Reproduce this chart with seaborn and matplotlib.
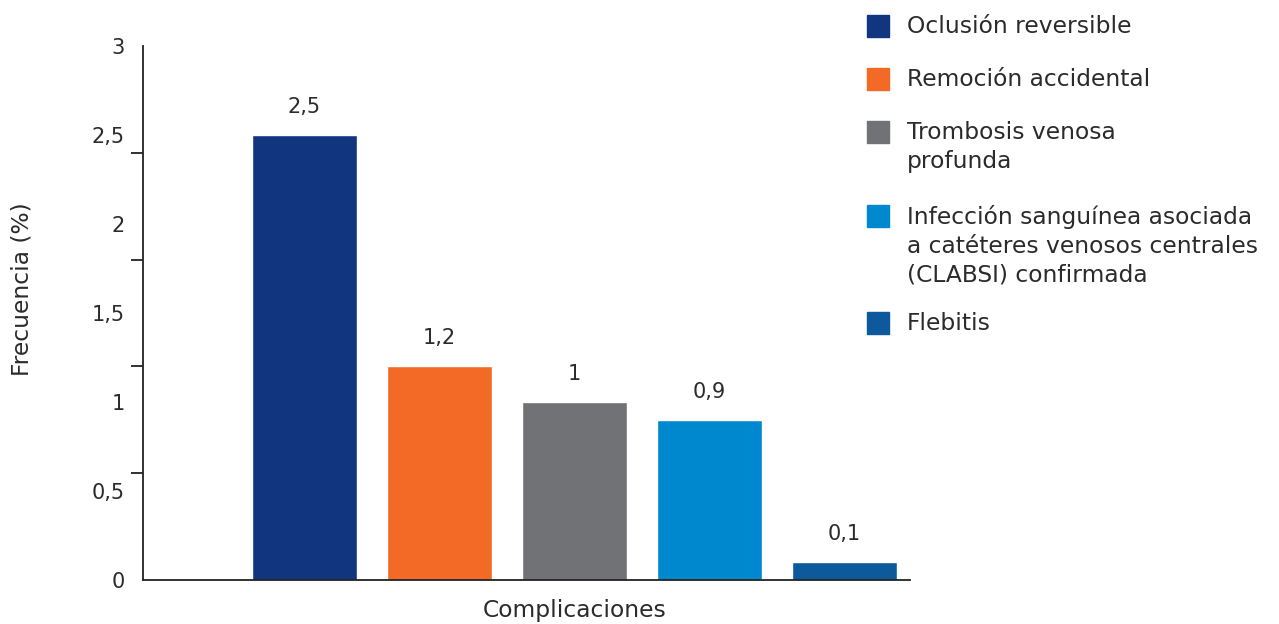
import numpy as np
import seaborn as sns
import pandas as pd
import matplotlib.pyplot as plt
from matplotlib.patches import Rectangle

categorias = ["Oclusión reversible", "Remoción accidental",
              "Trombosis venosa\nprofunda",
              "Infección sanguínea asociada\na catéteres venosos centrales\n(CLABSI) confirmada",
              "Flebitis"]
frecuencia = [2.5, 1.2, 1.0, 0.9, 0.1]
etiquetas = ["2,5", "1,2", "1", "0,9", "0,1"]
colores = ["#12357f", "#f26a26", "#717276", "#0088cf", "#0c5a9c"]
yticks = [0, 0.5, 1, 1.5, 2, 2.5, 3]
ytick_labels = ["0", "0,5", "1", "1,5", "2", "2,5", "3"]

sns.set_style("white")
plt.rcParams["font.family"] = ["DejaVu Sans"]
txt = "#2b2b2b"
fs_txt = 16.8
fs_num = 15

W, H = 1279, 624
fig = plt.figure(figsize=(W / 100, H / 100), dpi=100)
ax = fig.add_axes([143 / W, 1 - 580 / H, (910 - 143) / W, (580 - 46) / H])

df = pd.DataFrame({"cat": categorias, "val": frecuencia})
sns.barplot(data=df, x="cat", y="val", hue="cat", palette=colores,
            width=0.78, legend=False, ax=ax, saturation=1)

for cont, lab in zip(ax.containers, etiquetas):
    ax.bar_label(cont, labels=[lab], padding=13, fontsize=fs_num, color=txt)

ax.set_xlim(-1.196, 4.485)
ax.set_ylim(0, 3)
ax.set_xticks([])
ax.set_xlabel("")
ax.set_ylabel("")

# labels every 0.5, tick marks (quirk of the original) every 0.6
ax.set_yticks(yticks)
ax.set_yticklabels(ytick_labels, fontsize=fs_num, color=txt)
ax.set_yticks(np.linspace(0, 3, 6), minor=True)
ax.tick_params(axis="y", which="major", left=True, length=0, pad=13)
ax.tick_params(axis="y", which="minor", left=True, length=9, width=1.3,
               color="#222222")

for s in ["top", "right"]:
    ax.spines[s].set_visible(False)
for s in ["left", "bottom"]:
    ax.spines[s].set_color("#222222")
    ax.spines[s].set_linewidth(1.3)

fig.text(22 / W, 1 - 289 / H, "Frecuencia (%)", rotation=90, ha="center",
         va="center", fontsize=fs_txt, color=txt)
fig.text(575 / W, 1 - 610 / H, "Complicaciones", ha="center", va="center",
         fontsize=fs_txt, color=txt)

# legend
leg_y = [26, 79, 132, 216, 323]
for lab, col, yy in zip(categorias, colores, leg_y):
    fig.add_artist(Rectangle((867 / W, 1 - (yy + 11) / H), 22 / W, 22 / H,
                             transform=fig.transFigure, color=col))
    fig.text(907 / W, 1 - (yy - 11) / H, lab, ha="left", va="top",
             fontsize=fs_txt, color=txt, linespacing=1.33)

fig.savefig("out.png", dpi=100)
